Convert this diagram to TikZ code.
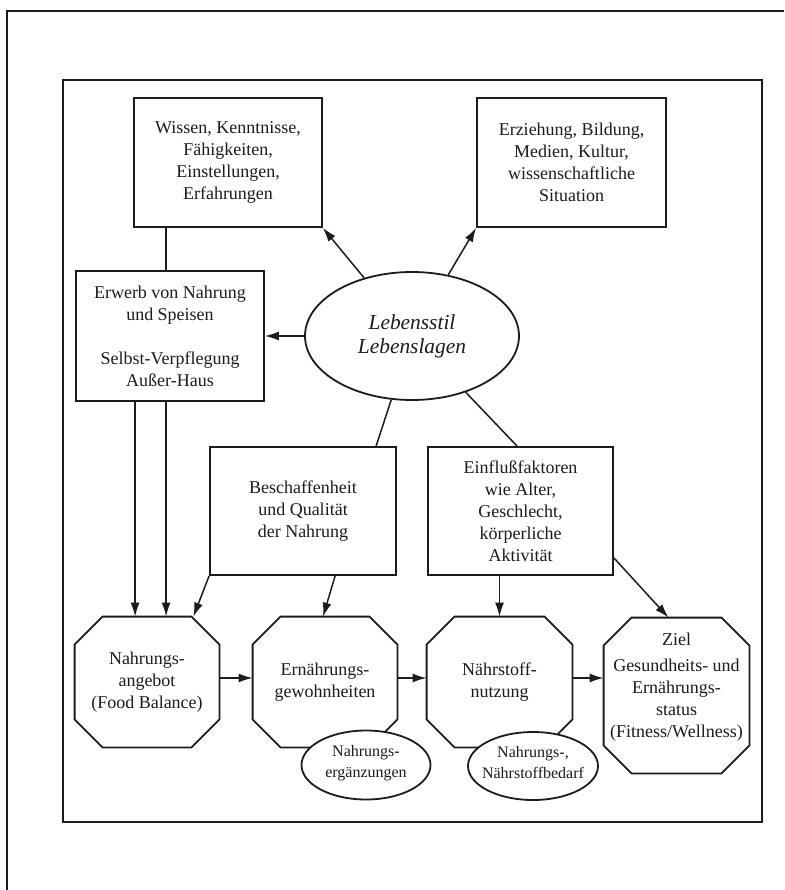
\documentclass[tikz,border=0pt]{standalone}
\usepackage{fontspec}
\setmainfont{Liberation Serif}
\usetikzlibrary{arrows.meta,shapes.geometric}
\definecolor{ink}{RGB}{28,28,28}
\newcommand\octagonframe[2]{%
  \draw[shapeline] ([xshift=#2]#1.north west) -- ([xshift=-#2]#1.north east)
    -- ([yshift=-#2]#1.north east) -- ([yshift=#2]#1.south east)
    -- ([xshift=-#2]#1.south east) -- ([xshift=#2]#1.south west)
    -- ([yshift=#2]#1.south west) -- ([yshift=-#2]#1.north west) -- cycle;}
\begin{document}
\begin{tikzpicture}[x=0.5pt,y=-0.5pt,
  box/.style={draw=ink, line width=0.9pt, rectangle, inner sep=0pt, align=center,
    text=ink, font=\fontsize{9}{11}\selectfont},
  frame/.style={draw=none, rectangle, inner sep=0pt, align=center,
    text=ink, font=\fontsize{9}{11}\selectfont},
  smalltext/.style={inner sep=0pt, align=center, text=ink,
    font=\fontsize{8}{10.5}\selectfont},
  oval/.style={draw=ink, line width=0.9pt, fill=white, ellipse, inner sep=0pt},
  shapeline/.style={draw=ink, line width=0.9pt},
  arr/.style={draw=ink, line width=0.75pt, -{Latex[length=7pt,width=4.5pt]}},
  ln/.style={draw=ink, line width=0.75pt}]
\useasboundingbox (0,0) rectangle (784,890);
\fill[white] (0,0) rectangle (784,890);
% scan border and frame
\draw[ink, line width=1.3pt] (7,890) -- (7,11) -- (784,11);
\draw[ink, line width=1.1pt] (63,80) rectangle (762,822);

% boxes
\node[box, minimum width=94pt, minimum height=64.5pt] (wis) at (228,162.5)
  {Wissen, Kenntnisse,\\Fähigkeiten,\\Einstellungen,\\Erfahrungen};
\node[box, minimum width=94.5pt, minimum height=64.5pt] (erz) at (571.5,162.5)
  {Erziehung, Bildung,\\Medien, Kultur,\\wissenschaftliche\\Situation};
\node[box, minimum width=94pt, minimum height=65pt] (erw) at (170,336)
  {Erwerb von Nahrung\\und Speisen\\[11pt]Selbst-Verpflegung\\Außer-Haus};
\node[draw=ink, line width=0.9pt, ellipse, minimum width=107pt, minimum height=64pt,
  inner sep=0pt, align=center, text=ink, font=\itshape\fontsize{10.7}{12}\selectfont]
  (ls) at (412,336) {Lebensstil\\Lebenslagen};
\node[box, minimum width=93pt, minimum height=64pt] (bes) at (303,511)
  {Beschaffenheit\\und Qualität\\der Nahrung};
\node[box, minimum width=92.5pt, minimum height=64pt] (ein) at (520.5,511)
  {Einflußfaktoren\\wie Alter,\\Geschlecht,\\körperliche\\Aktivität};

% octagons
\node[frame, minimum width=72pt, minimum height=65pt] (na) at (147,682)
  {Nahrungs-\\angebot\\(Food Balance)};
\node[frame, minimum width=72pt, minimum height=65pt] (eg) at (325,682)
  {Ernährungs-\\gewohnheiten};
\node[frame, minimum width=72.5pt, minimum height=65pt] (nn) at (499.5,682)
  {Nährstoff-\\nutzung};
\node[frame, minimum width=72.5pt, minimum height=77.5pt] (zi) at (676.5,695.5) {};
\node[frame] (zit) at (676.5,687)
  {Ziel\\[2pt]Gesundheits- und\\Ernährungs-\\status\\(Fitness/Wellness)};
\octagonframe{na}{14pt}
\octagonframe{eg}{14pt}
\octagonframe{nn}{14pt}
\octagonframe{zi}{14pt}

% small ellipses
\node[oval, minimum width=64.5pt, minimum height=34.5pt] (erg) at (366,765) {};
\node[smalltext] (ergt) at (366,763) {Nahrungs-\\ergänzungen};
\node[oval, minimum width=65pt, minimum height=34pt] (bed) at (533,766) {};
\node[smalltext] (bedt) at (533,763) {Nahrungs-,\\Nährstoffbedarf};

% connectors from the central ellipse
\draw[arr] (ls) -- (wis.south east);
\draw[arr] (ls) -- (erz.south west);
\draw[arr] (ls) -- (erw.east);
\draw[ln] (ls) -- ([xshift=83.5pt]bes.north west);
\draw[ln] (ls) -- ([xshift=45pt]ein.north west);

% left column
\draw[ln] ([xshift=16.5pt]wis.south west) -- ([xshift=16.5pt]wis.south west |- erw.north);
\draw[arr] ([xshift=30pt]erw.south west) -- ([xshift=30pt]erw.south west |- na.north);
\draw[arr] ([xshift=45.5pt]erw.south west) -- ([xshift=45.5pt]erw.south west |- na.north);

% middle
\draw[arr] (bes.south west) -- ([xshift=-13pt]na.north east);
\draw[arr] ([xshift=63pt]bes.south west) -- ([xshift=-1pt]eg.north);
\draw[arr] (nn.north |- ein.south) -- (nn.north);
\draw[arr] ([yshift=9pt]ein.south east) -- ([xshift=-4pt]zi.north);

% bottom row
\draw[arr] ([yshift=2pt]na.east) -- ([yshift=2pt]eg.west);
\draw[arr] ([yshift=2pt]eg.east) -- ([yshift=2pt]nn.west);
\draw[arr] ([yshift=2pt]nn.east) -- ([yshift=2pt]nn.east -| zi.west);
\end{tikzpicture}
\end{document}
